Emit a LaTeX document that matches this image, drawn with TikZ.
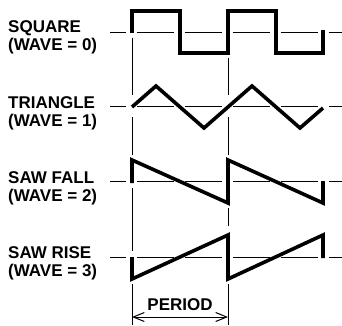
\documentclass[tikz,border=0pt]{standalone}
\usepackage{fontspec}
\setmainfont{Liberation Sans}
\usetikzlibrary{arrows.meta}
\begin{document}
\begin{tikzpicture}[x=1pt,y=-1pt,
  wave/.style={line width=3.6pt,line join=miter,line cap=butt},
  axisline/.style={line width=1pt,dash pattern=on 37pt off 11pt,dash phase=21pt},
  thin/.style={line width=0.9pt},
  lbl/.style={anchor=base west,inner sep=0pt,font=\fontsize{17}{19}\selectfont\bfseries},
  dim/.style={line width=1pt,{Straight Barb[length=11pt,width=9pt]}-{Straight Barb[length=11pt,width=9pt]}}]
\useasboundingbox (0,0) rectangle (342,325);
% labels
\node[lbl] (l0a) at (8,32) {SQUARE};
\node[lbl] (l0b) at (8,50) {(WAVE = 0)};
\node[lbl] (l1a) at (8,108) {TRIANGLE};
\node[lbl] (l1b) at (8,126) {(WAVE = 1)};
\node[lbl] (l2a) at (8,183) {SAW FALL};
\node[lbl] (l2b) at (8,201) {(WAVE = 2)};
\node[lbl] (l3a) at (8,258) {SAW RISE};
\node[lbl] (l3b) at (8,276) {(WAVE = 3)};
% baselines
\draw[axisline] (110,32) -- (342,32);
\draw[axisline] (110,106) -- (342,106);
\draw[axisline] (110,181) -- (342,181);
\draw[axisline] (110,257) -- (342,257);
% thin period markers
\draw[thin] (132,38) -- (132,95) (132,117) -- (132,155) (132,188) -- (132,251) (132,284) -- (132,325);
\draw[thin] (228,58) -- (228,95) (228,117) -- (228,155) (228,208) -- (228,226) (228,284) -- (228,325);
% waves
\draw[wave] (132,33) -- (132,11) -- (180,11) -- (180,53) -- (228,53) -- (228,11) -- (276,11) -- (276,53) -- (323,53) -- (323,30);
\draw[wave] (132,107) -- (156,86) -- (204,128) -- (252,86) -- (300,128) -- (323,108);
\draw[wave] (132,183) -- (132,160) -- (228,203) -- (228,160) -- (323,203) -- (323,181);
\draw[wave] (132,257) -- (132,279) -- (228,235) -- (228,279) -- (323,235) -- (323,258);
% period dimension
\coordinate (pa) at (132,317);
\coordinate (pb) at (228,317);
\draw[dim] (pa) -- (pb);
\node[anchor=base,inner sep=0pt,font=\fontsize{17}{19}\selectfont\bfseries] (per) at (180,310) {PERIOD};
\end{tikzpicture}
\end{document}
